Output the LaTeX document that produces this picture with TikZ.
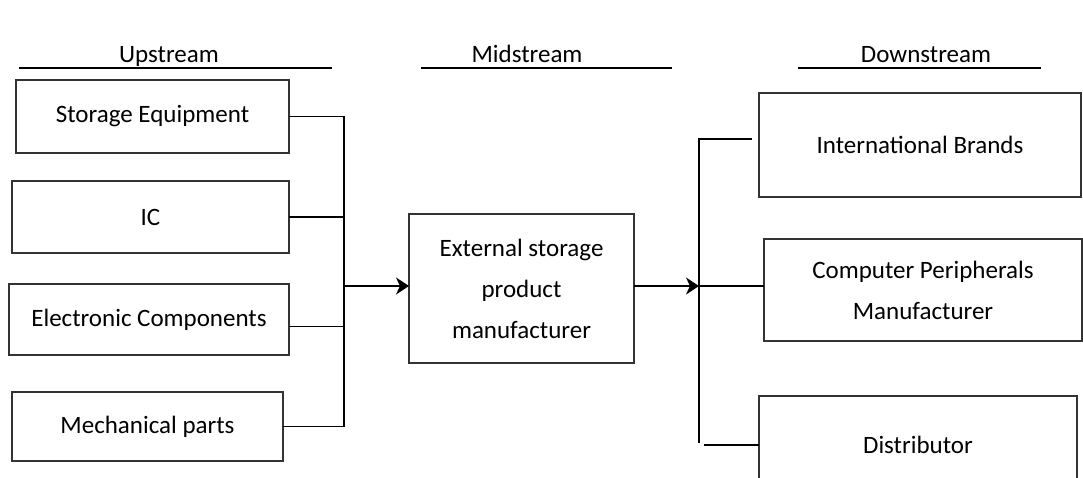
\documentclass[tikz,border=0pt]{standalone}
\usepackage{fontspec}
\setmainfont{Carlito}
\usetikzlibrary{arrows.meta}

\begin{document}
\begin{tikzpicture}[x=1pt, y=-1pt,
    box/.style={draw=black!80, line width=1.5pt, inner sep=0pt, outer sep=0pt,
      align=center, font=\fontsize{25}{41}\selectfont},
    link/.style={line width=1.9pt},
    arrow/.style={line width=1.9pt, -{Stealth[length=13pt, width=17pt, inset=4pt]}},
    stage/.style={anchor=base, font=\fontsize{25}{29}\selectfont}
  ]
  \useasboundingbox (0,0) rectangle (1083,477);

  % stage headings
  \node[stage] (up)   at (169,62) {Upstream};
  \node[stage] (midh) at (527,62) {Midstream};
  \node[stage] (down) at (926,62) {Downstream};
  \draw[link] (19,68) -- (332,68);
  \draw[link] (421,68) -- (672,68);
  \draw[link] (798,68) -- (1041,68);

  % upstream
  \node[box, minimum width=273, minimum height=73] (storage) at (152.5,116.5) {Storage Equipment};
  \node[box, minimum width=277, minimum height=72] (ic)      at (150.5,217)   {IC};
  \node[box, minimum width=280, minimum height=71] (elec)    at (149,319.5)   {Electronic Components};
  \node[box, minimum width=271, minimum height=69] (mech)    at (147.5,426.5) {Mechanical parts};

  % midstream
  \node[box, minimum width=225, minimum height=149] (mid) at (521.5,288.5)
    {External storage\\product\\manufacturer};

  % downstream
  \node[box, minimum width=322, minimum height=104] (intl)   at (920,145) {International Brands};
  \node[box, minimum width=318, minimum height=102] (periph) at (923,290)
    {Computer Peripherals\\Manufacturer};
  \node[box, minimum width=318, minimum height=98]  (dist)   at (918,445) {Distributor};

  \path
    coordinate (inbus)  at (344,286)
    coordinate (outbus) at (699,286)
    coordinate (rtop)   at (699,139)
    coordinate (rbot)   at (699,443)
    coordinate (rstub)  at (704,445)
  ;

  \draw[link] (storage.east) -- (storage.east -| inbus) -- (mech.east -| inbus) -- (mech.east);
  \draw[link] (ic.east) -- (ic.east -| inbus);
  \draw[link] ([yshift=-7pt]elec.east) -- ([yshift=-7pt]elec.east -| inbus);
  \draw[arrow] (inbus) -- (mid.west |- inbus);

  \draw[arrow] (mid.east |- outbus) -- (outbus);
  \draw[link] ([xshift=-7pt]intl.west |- rtop) -- (rtop) -- (rbot);
  \draw[link] (outbus) -- (periph.west |- outbus);
  \draw[link] (rstub) -- (dist.west |- rstub);

\end{tikzpicture}
\end{document}
